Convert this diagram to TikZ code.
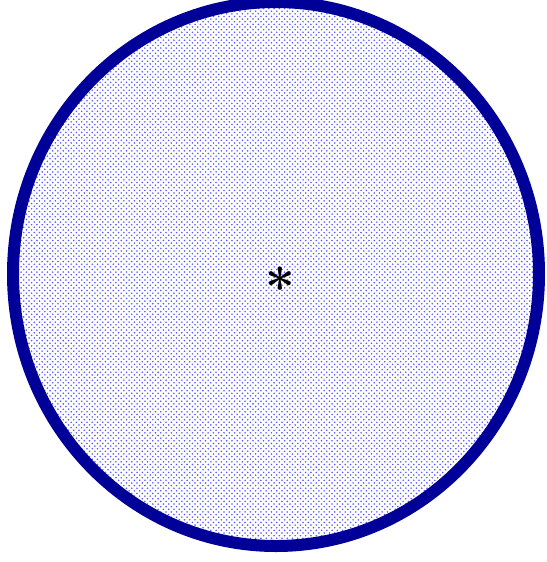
\documentclass[tikz,border=0pt]{standalone}
\usetikzlibrary{patterns}
\definecolor{rimblue}{RGB}{0,0,153}
\begin{document}
\begin{tikzpicture}[x=0.02cm, y=-0.02cm]
        % Frame of the picture
        \useasboundingbox (0,0) rectangle (547,562);

        % Dotted disc with thick rim
        \begin{scope}
        \clip (0,0) rectangle (547,562);
        \fill[white] (276,274) ellipse (263 and 272);
        \draw[line width=0.24cm, rimblue, pattern=crosshatch dots, pattern color=blue!65] (276,274) ellipse (263 and 272);
        \end{scope}

        % Centre mark
        \node (centre) at (280,287) {\fontsize{30}{32}\selectfont\bfseries *};
\end{tikzpicture}
\end{document}
